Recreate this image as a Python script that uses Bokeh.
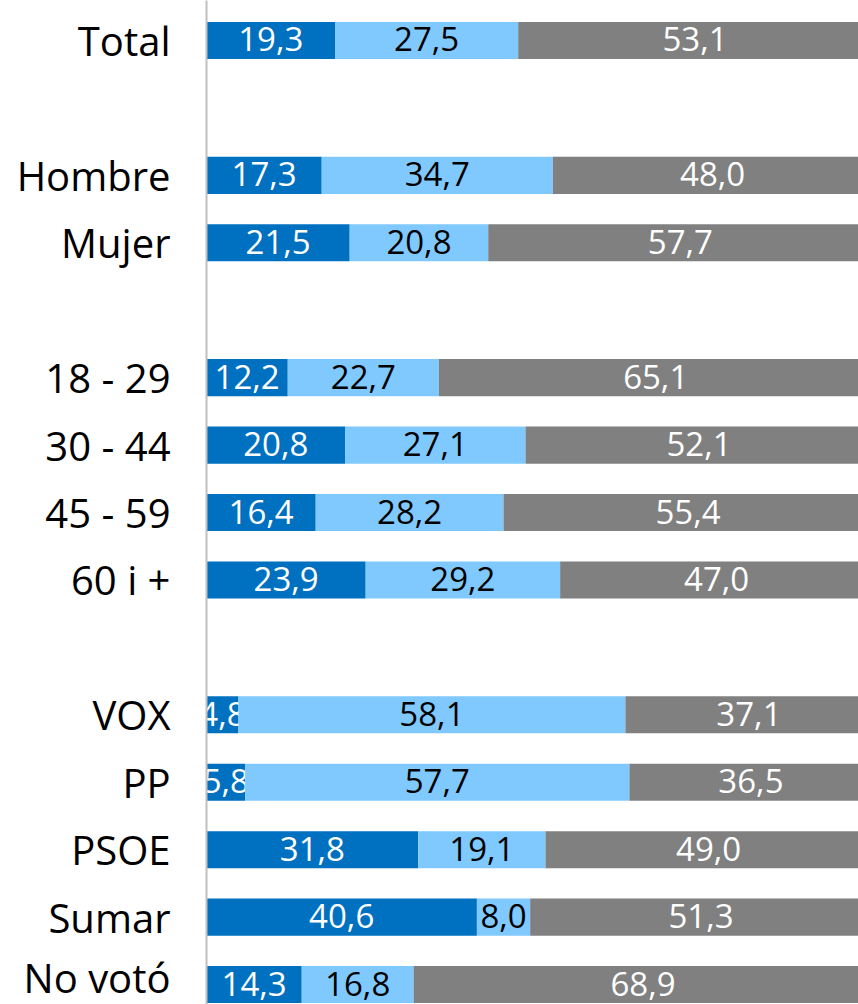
from bokeh.plotting import figure
from bokeh.models import ColumnDataSource, Range1d, FixedTicker
from bokeh.core.properties import value
from bokeh.embed import file_html
from bokeh.resources import INLINE

# ---- data ----
categories = ["Total", "", "Hombre", "Mujer", "", "18 - 29", "30 - 44", "45 - 59", "60 i +",
              "", "VOX", "PP", "PSOE", "Sumar", "No votó"]
serie_a = [19.3, None, 17.3, 21.5, None, 12.2, 20.8, 16.4, 23.9, None, 4.8, 5.8, 31.8, 40.6, 14.3]
serie_b = [27.5, None, 34.7, 20.8, None, 22.7, 27.1, 28.2, 29.2, None, 58.1, 57.7, 19.1, 8.0, 16.8]
serie_c = [53.1, None, 48.0, 57.7, None, 65.1, 52.1, 55.4, 47.0, None, 37.1, 36.5, 49.0, 51.3, 68.9]

colors = ["#0070C0", "#7FC9FF", "#808080"]
text_colors = ["white", "black", "white"]

FONT = "Open Sans"

p = figure(width=858, height=1004, output_backend="svg", toolbar_location=None,
           x_range=Range1d(0, 97.9), y_range=Range1d(-14.296, 0.593),
           min_border_left=206, min_border_right=0, min_border_top=0, min_border_bottom=0)

rows = [i for i, c in enumerate(categories) if c]
y_of = {i: -i for i in rows}
all_series = [serie_a, serie_b, serie_c]

for k, series in enumerate(all_series):
    y, left, right, cx, lab = [], [], [], [], []
    for i in rows:
        start = sum(s[i] for s in all_series[:k])
        v = series[i]
        y.append(y_of[i])
        left.append(start)
        right.append(start + v)
        cx.append(start + v / 2)
        lab.append(f"{v:.1f}".replace(".", ","))
    src = ColumnDataSource(dict(y=y, left=left, right=right, cx=cx, lab=lab))
    p.hbar(y="y", left="left", right="right", height=0.55, source=src,
           fill_color=colors[k], line_color=None)
    p.text(x="cx", y="y", text="lab", source=src, text_align="center", text_baseline="middle",
           text_color=text_colors[k], text_font=value(FONT), text_font_size="33px", y_offset=-1)

p.xaxis.visible = False
p.xgrid.visible = False
p.ygrid.visible = False
p.outline_line_color = None

p.yaxis.ticker = FixedTicker(ticks=[y_of[i] for i in rows])
p.yaxis.major_label_overrides = {y_of[i]: categories[i] for i in rows}
p.yaxis.major_tick_line_color = None
p.yaxis.minor_tick_line_color = None
p.yaxis.major_tick_out = 0
p.yaxis.major_tick_in = 0
p.yaxis.axis_line_color = "#BFBFBF"
p.yaxis.axis_line_width = 2
p.yaxis.major_label_standoff = 36
p.yaxis.major_label_text_font = FONT
p.yaxis.major_label_text_font_size = "40px"
p.yaxis.major_label_text_color = "black"

open("out.html", "w").write(file_html(p, INLINE))
